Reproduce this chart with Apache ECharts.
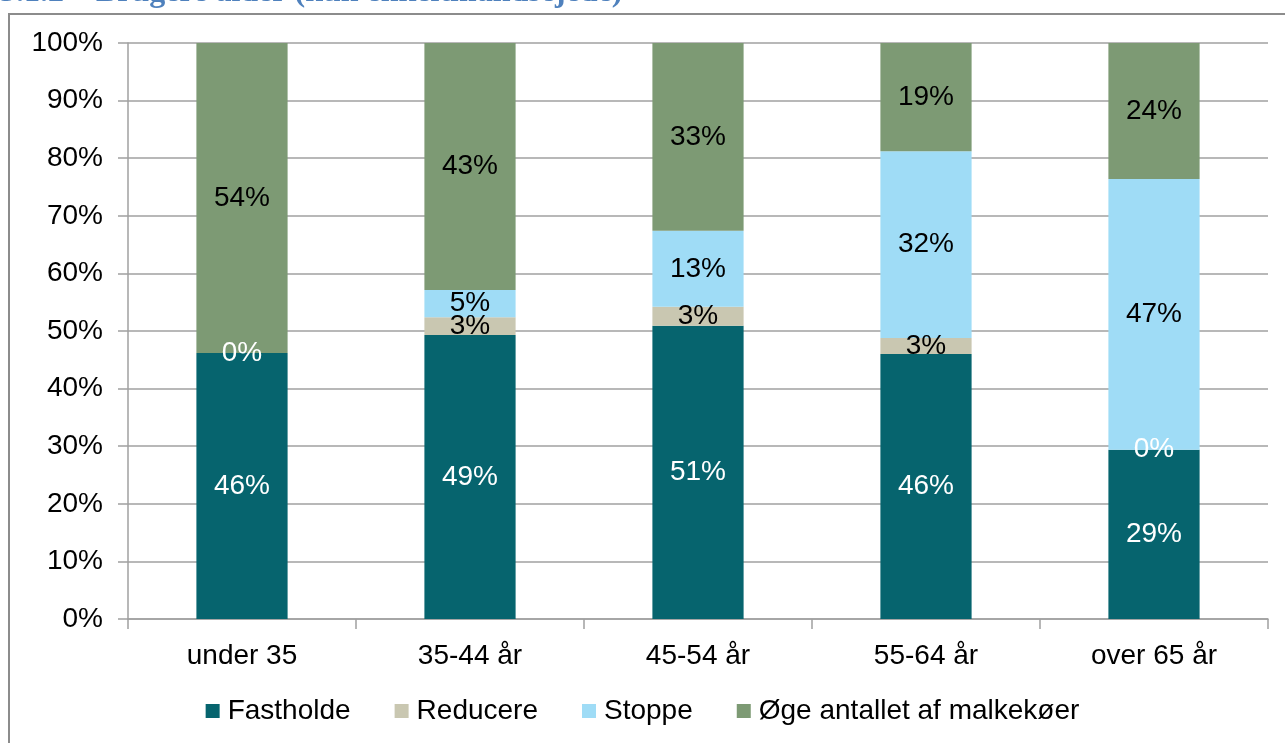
<!DOCTYPE html>
<html><head><meta charset="utf-8">
<script src="https://cdn.jsdelivr.net/npm/echarts@6/dist/echarts.min.js"></script>
<style>html,body{margin:0;padding:0;background:#fff}#c{width:1285px;height:743px}</style>
</head><body><div id="c"></div>
<script>
const categories = ['under 35', '35-44 år', '45-54 år', '55-64 år', 'over 65 år'];
const fastholde = [46.2, 49.3, 50.9, 46.0, 29.4];
const reducere = [0, 3.1, 3.3, 2.8, 0];
const stoppe = [0, 4.7, 13.2, 32.4, 47.0];
const oege = [53.8, 42.9, 32.6, 18.8, 23.6];
const yTicks = [0, 10, 20, 30, 40, 50, 60, 70, 80, 90, 100];
const names = ['Fastholde', 'Reducere', 'Stoppe', 'Øge antallet af malkekøer'];
const colors = ['#06646E', '#C9C7B1', '#9FDCF6', '#7D9A74'];
const FONT = 'Liberation Sans';
const FS = 28;

function mkData(vals, labelColor, showZero) {
  return vals.map(v => {
    const item = { value: v };
    if (v === 0) {
      item.label = showZero ? { show: true, color: '#fff' } : { show: false };
    } else {
      item.label = { color: labelColor };
    }
    return item;
  });
}
const seriesData = [
  mkData(fastholde, '#fff', false),
  mkData(reducere, '#000', true),
  mkData(stoppe, '#000', false),
  mkData(oege, '#000', false)
];
const chart = echarts.init(document.getElementById('c'), null, { renderer: 'canvas' });
chart.setOption({
  animation: false,
  textStyle: { fontFamily: FONT },
  graphic: [
    { type: 'rect', shape: { x: 9, y: 14, width: 1290, height: 740 }, style: { fill: 'none', stroke: '#8C8C8C', lineWidth: 2 } },
    { type: 'text', left: 0, top: -23, style: { text: '5.1.2 – Brugere alder (kun enkeltmandsejede)', font: 'bold 32px "Liberation Serif"', fill: '#4F81BD' } }
  ],
  grid: { left: 128, right: 17, top: 43, bottom: 124 },
  legend: {
    bottom: 13, left: 'center', itemWidth: 14, itemHeight: 14, itemGap: 44,
    icon: 'rect',
    textStyle: { fontSize: FS, color: '#000', fontFamily: FONT, padding: [0, 0, 0, 3] },
    data: names
  },
  xAxis: {
    type: 'category', data: categories,
    axisLine: { lineStyle: { color: '#A0A0A0', width: 1.5 } },
    axisTick: { show: true, length: 10, lineStyle: { color: '#A0A0A0', width: 1.5 } },
    axisLabel: { fontSize: FS, color: '#000', margin: 23, fontFamily: FONT }
  },
  yAxis: {
    type: 'value', min: 0, max: 100, interval: 10,
    axisLine: { show: true, lineStyle: { color: '#A0A0A0', width: 1.5 } },
    axisTick: { show: true, length: 10, lineStyle: { color: '#A0A0A0', width: 1.5 } },
    splitLine: { lineStyle: { color: '#A0A0A0', width: 1.5 } },
    axisLabel: { fontSize: FS, color: '#000', margin: 25, fontFamily: FONT, formatter: v => yTicks.includes(v) ? v + '%' : '' }
  },
  series: names.map((n, i) => ({
    name: n, type: 'bar', stack: 'total', barWidth: '40%',
    itemStyle: { color: colors[i] },
    label: { show: true, position: 'inside', fontSize: FS, fontFamily: FONT, formatter: p => Math.round(p.value) + '%' },
    data: seriesData[i]
  }))
});
</script></body></html>
